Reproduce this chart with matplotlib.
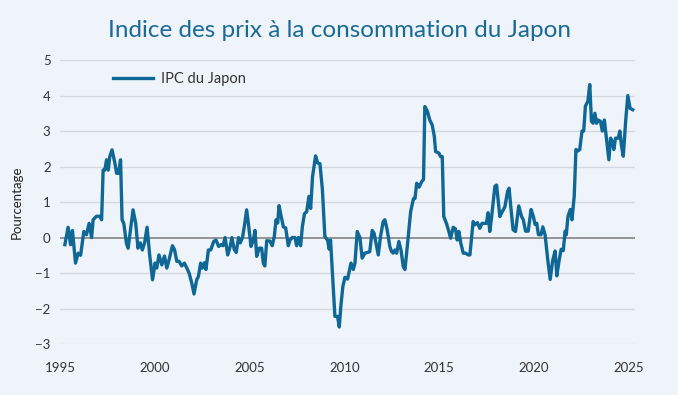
import matplotlib
matplotlib.use("Agg")
import matplotlib.pyplot as plt

# === DONNÉES ===
annees = [
    1995.24, 1995.41, 1995.54, 1995.64, 1995.80, 1995.94, 1996.07, 1996.24, 1996.38, 1996.52,
    1996.65, 1996.73, 1996.91, 1997.09, 1997.18, 1997.26, 1997.35, 1997.44, 1997.53, 1997.61,
    1997.73, 1997.88, 1997.97, 1998.07, 1998.18, 1998.26, 1998.35, 1998.49, 1998.58, 1998.70,
    1998.84, 1998.98, 1999.10, 1999.22, 1999.33, 1999.45, 1999.58, 1999.72, 1999.87, 2000.00,
    2000.09, 2000.21, 2000.36, 2000.50, 2000.62, 2000.74, 2000.92, 2001.03, 2001.15, 2001.27,
    2001.41, 2001.55, 2001.68, 2001.80, 2001.94, 2002.06, 2002.20, 2002.29, 2002.41, 2002.50,
    2002.61, 2002.69, 2002.82, 2002.94, 2003.10, 2003.22, 2003.36, 2003.49, 2003.59, 2003.70,
    2003.84, 2003.97, 2004.06, 2004.18, 2004.29, 2004.41, 2004.50, 2004.62, 2004.73, 2004.84,
    2004.93, 2005.07, 2005.19, 2005.28, 2005.37, 2005.50, 2005.63, 2005.72, 2005.80, 2005.90,
    2006.07, 2006.19, 2006.30, 2006.39, 2006.48, 2006.55, 2006.66, 2006.78, 2006.90, 2007.04,
    2007.13, 2007.25, 2007.39, 2007.48, 2007.57, 2007.69, 2007.78, 2007.89, 2008.01, 2008.13,
    2008.22, 2008.32, 2008.48, 2008.59, 2008.71, 2008.84, 2008.97, 2009.11, 2009.20, 2009.27,
    2009.50, 2009.64, 2009.73, 2009.82, 2009.92, 2010.03, 2010.17, 2010.35, 2010.47, 2010.56,
    2010.68, 2010.82, 2010.94, 2011.08, 2011.22, 2011.34, 2011.47, 2011.57, 2011.70, 2011.79,
    2011.91, 2012.05, 2012.14, 2012.26, 2012.40, 2012.49, 2012.58, 2012.67, 2012.76, 2012.88,
    2012.99, 2013.11, 2013.20, 2013.34, 2013.50, 2013.65, 2013.73, 2013.82, 2013.95, 2014.09,
    2014.18, 2014.25, 2014.39, 2014.51, 2014.64, 2014.75, 2014.82, 2014.99, 2015.08, 2015.17,
    2015.25, 2015.39, 2015.52, 2015.61, 2015.75, 2015.87, 2015.96, 2016.05, 2016.15, 2016.28,
    2016.40, 2016.54, 2016.63, 2016.80, 2016.89, 2017.03, 2017.15, 2017.27, 2017.42, 2017.50,
    2017.59, 2017.68, 2017.77, 2017.95, 2018.04, 2018.21, 2018.34, 2018.48, 2018.62, 2018.70,
    2018.79, 2018.91, 2019.04, 2019.21, 2019.36, 2019.45, 2019.57, 2019.71, 2019.86, 2019.98,
    2020.07, 2020.16, 2020.25, 2020.39, 2020.48, 2020.60, 2020.74, 2020.87, 2021.00, 2021.13,
    2021.22, 2021.34, 2021.45, 2021.56, 2021.66, 2021.72, 2021.81, 2021.93, 2022.02, 2022.14,
    2022.23, 2022.34, 2022.43, 2022.55, 2022.64, 2022.73, 2022.86, 2022.96, 2023.05, 2023.14,
    2023.23, 2023.32, 2023.41, 2023.53, 2023.62, 2023.73, 2023.85, 2023.97, 2024.06, 2024.15,
    2024.23, 2024.32, 2024.46, 2024.55, 2024.64, 2024.73, 2024.86, 2024.97, 2025.09, 2025.23,
]
ipc = [
    -0.20, 0.29, -0.20, 0.20, -0.72, -0.44, -0.50, 0.17, 0.08, 0.40,
    0.00, 0.50, 0.60, 0.60, 0.50, 1.90, 1.90, 2.19, 1.90, 2.28,
    2.47, 2.10, 1.81, 1.81, 2.19, 0.50, 0.40, -0.16, -0.30, 0.20,
    0.78, 0.40, -0.30, -0.15, -0.35, -0.15, 0.29, -0.50, -1.19, -0.72,
    -0.86, -0.49, -0.77, -0.52, -0.86, -0.63, -0.23, -0.34, -0.67, -0.67,
    -0.80, -0.72, -0.86, -1.00, -1.28, -1.59, -1.19, -1.10, -0.72, -0.86,
    -0.71, -0.90, -0.35, -0.35, -0.11, -0.07, -0.25, -0.20, -0.23, 0.00,
    -0.49, -0.25, 0.00, -0.33, -0.42, 0.00, -0.15, 0.00, 0.36, 0.78,
    0.40, -0.25, -0.07, 0.20, -0.53, -0.30, -0.30, -0.72, -0.80, -0.09,
    -0.10, -0.23, 0.03, 0.50, 0.41, 0.90, 0.60, 0.30, 0.27, -0.23,
    -0.07, 0.00, 0.00, -0.23, 0.00, -0.23, 0.30, 0.67, 0.73, 1.16,
    0.82, 1.72, 2.30, 2.10, 2.08, 1.35, 0.03, -0.07, -0.33, -0.07,
    -2.22, -2.22, -2.52, -1.90, -1.38, -1.12, -1.17, -0.72, -0.90, -0.72,
    0.17, 0.00, -0.58, -0.44, -0.42, -0.40, 0.20, 0.12, -0.25, -0.49,
    0.03, 0.45, 0.50, 0.22, -0.25, -0.39, -0.44, -0.35, -0.44, -0.11,
    -0.35, -0.82, -0.90, -0.16, 0.73, 1.10, 1.10, 1.53, 1.42, 1.58,
    1.63, 3.69, 3.55, 3.31, 3.17, 2.85, 2.42, 2.38, 2.28, 2.28,
    0.59, 0.40, 0.17, -0.02, 0.29, 0.24, -0.07, 0.17, -0.16, -0.44,
    -0.44, -0.49, -0.49, 0.45, 0.36, 0.42, 0.26, 0.40, 0.40, 0.40,
    0.70, 0.17, 0.55, 1.44, 1.48, 0.59, 0.73, 0.87, 1.30, 1.39,
    0.87, 0.22, 0.17, 0.89, 0.59, 0.50, 0.18, 0.18, 0.79, 0.60,
    0.37, 0.40, 0.08, 0.08, 0.30, 0.08, -0.62, -1.18, -0.65, -0.38,
    -1.08, -0.65, -0.33, -0.37, 0.18, 0.08, 0.60, 0.79, 0.50, 1.17,
    2.48, 2.44, 2.48, 3.00, 3.00, 3.70, 3.84, 4.31, 3.27, 3.22,
    3.50, 3.22, 3.31, 3.27, 3.00, 3.31, 2.75, 2.19, 2.80, 2.70,
    2.48, 2.80, 2.80, 3.00, 2.57, 2.29, 3.31, 4.00, 3.64, 3.60,
]
ticks_x = [1995, 2000, 2005, 2010, 2015, 2020, 2025]
ticks_y = [-3, -2, -1, 0, 1, 2, 3, 4, 5]

# === GRÁFICA ===
fond = '#eff4fb'
bleu = '#0f6796'
plt.rcParams['font.family'] = ['Lato', 'DejaVu Sans']

fig = plt.figure(figsize=(6.78, 3.95), dpi=100, facecolor=fond)
ax = fig.add_axes([0.089, 0.129, 0.8476, 0.719], facecolor=fond)

for v in ticks_y:
    if v == 0:
        ax.axhline(v, color='#8c8c8c', linewidth=1.3, zorder=1)
    else:
        ax.axhline(v, color='#d5d9df', linewidth=1.0, zorder=1)

ax.plot(annees, ipc, color=bleu, linewidth=2.4, label='IPC du Japon', zorder=3)

ax.set_xlim(1995.0, 2025.35)
ax.set_ylim(-3, 5)
ax.set_xticks(ticks_x)
ax.set_yticks(ticks_y)
ax.tick_params(axis='both', length=0, labelsize=9.5, labelcolor='#333333')
ax.tick_params(axis='x', pad=13)
ax.tick_params(axis='y', pad=7)
for s in ax.spines.values():
    s.set_visible(False)

ax.set_ylabel('Pourcentage', fontsize=9.5, color='#222222', labelpad=9)
fig.suptitle('Indice des prix à la consommation du Japon', x=0.5, y=0.95,
             fontsize=17.5, color='#1a6a96')

ax.legend(loc='upper left', bbox_to_anchor=(0.068, 1.005), frameon=False,
          fontsize=10.5, handlelength=2.8, handletextpad=0.5, labelcolor='#333333')

fig.savefig('out.png', dpi=100, facecolor=fond)
